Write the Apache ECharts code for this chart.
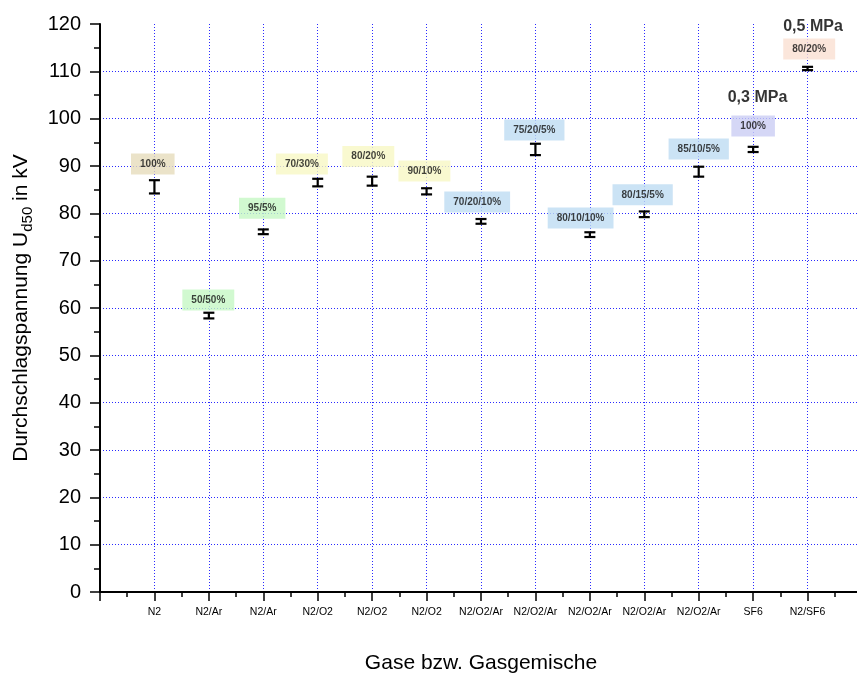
<!DOCTYPE html>
<html>
<head>
<meta charset="utf-8">
<script src="https://cdn.jsdelivr.net/npm/echarts@6/dist/echarts.min.js"></script>
<style>
html,body{margin:0;padding:0;background:#fff;}
#chart{width:857px;height:674px;}
</style>
</head>
<body>
<div id="chart"></div>
<script>
// ---- data ----
const categories = ['N2','N2/Ar','N2/Ar','N2/O2','N2/O2','N2/O2','N2/O2/Ar','N2/O2/Ar','N2/O2/Ar','N2/O2/Ar','N2/O2/Ar','SF6','N2/SF6'];
const means  = [85.6, 58.4, 76.1, 86.5, 86.8, 84.65, 78.3, 93.5, 75.5, 79.8, 88.8, 93.5, 110.6];
const errors = [1.4, 0.6, 0.5, 0.8, 0.95, 0.65, 0.5, 1.2, 0.5, 0.6, 1.05, 0.55, 0.35];
const mixLabels = ['100%','50/50%','95/5%','70/30%','80/20%','90/10%','70/20/10%','75/20/5%','80/10/10%','80/15/5%','85/10/5%','100%','80/20%'];
// annotation anchor positions (data coordinates)
const mixLabelX = [0.97, 1.99, 2.98, 3.71, 4.93, 5.96, 6.93, 7.98, 8.83, 9.97, 11.0, 12.0, 13.03];
const mixLabelY = [90.4, 61.7, 81.1, 90.4, 92.0, 88.95, 82.4, 97.6, 79.0, 83.9, 93.6, 98.45, 114.7];
const mixGroup  = ['n2','ar','ar','o2','o2','o2','o2ar','o2ar','o2ar','o2ar','o2ar','sf6','n2sf6'];
const pressureLabels = ['0,3 MPa','0,5 MPa'];
const pressureX = [12.08, 13.1];
const pressureY = [104.4, 119.4];
const yTicks = [0,10,20,30,40,50,60,70,80,90,100,110,120];

const groupColors = {n2:'#e6dcbc', ar:'#c6f8c4', o2:'#f8f8c4', o2ar:'#bedcf2', sf6:'#cacdf4', n2sf6:'#fae0d2'};

const chart = echarts.init(document.getElementById('chart'), null, {renderer:'canvas'});

const errData = categories.map((c,i)=>[i+1, means[i]-errors[i], means[i]+errors[i]]);
const labelData = mixLabels.map((t,i)=>({value:[mixLabelX[i], mixLabelY[i]], name:t,
  label:{backgroundColor: groupColors[mixGroup[i]]}}));
const pressData = pressureLabels.map((t,i)=>({value:[pressureX[i], pressureY[i]], name:t}));

const FONT = 'Liberation Sans, Arial, sans-serif';

chart.setOption({
  animation:false,
  backgroundColor:'#fff',
  grid:{left:100, right:-5, top:24, bottom:82, containLabel:false, outerBoundsMode:'none'},
  xAxis:{
    type:'value', min:0, max:14, interval:1,
    name:'Gase bzw. Gasgemische', nameLocation:'middle', nameGap:61,
    nameTextStyle:{fontFamily:FONT, fontSize:21, color:'#000'},
    axisLine:{show:true, onZero:false, lineStyle:{color:'#000', width:2}},
    axisTick:{show:true, inside:false, length:9, lineStyle:{color:'#000', width:1.5}},
    minorTick:{show:true, splitNumber:2, length:5, lineStyle:{color:'#000', width:1.5}},
    axisLabel:{fontFamily:FONT, fontSize:10.5, color:'#000', margin:15,
      formatter:(v)=>{const i=Math.round(v); return (i>=1 && i<=categories.length)? categories[i-1] : '';}},
    splitLine:{show:true, lineStyle:{color:'#2a2aff', type:[1,2], width:1}}
  },
  yAxis:{
    type:'value', min:0, max:120, interval:10,
    name:'{a|Durchschlagspannung U}{s|d50}{a| in kV}', nameLocation:'middle', nameGap:66, nameRotate:90,
    nameTextStyle:{rich:{
      a:{fontFamily:FONT, fontSize:21, color:'#000', lineHeight:26},
      s:{fontFamily:FONT, fontSize:15, color:'#000', lineHeight:26, padding:[13,0,0,0]}
    }},
    axisLine:{show:true, lineStyle:{color:'#000', width:2}},
    axisTick:{show:true, inside:false, length:10, lineStyle:{color:'#000', width:1.5}},
    minorTick:{show:true, splitNumber:2, length:6, lineStyle:{color:'#000', width:1.5}},
    axisLabel:{fontFamily:FONT, fontSize:20, color:'#000', margin:19,
      formatter:(v)=> yTicks.includes(v) ? String(v) : ''},
    splitLine:{show:true, showMinLine:false, showMaxLine:false, lineStyle:{color:'#2a2aff', type:[1,2], width:1}}
  },
  series:[
    {
      type:'custom', data:errData, z:5,
      renderItem:(params, api)=>{
        const x = api.value(0);
        const lo = api.coord([x, api.value(1)]);
        const hi = api.coord([x, api.value(2)]);
        const w = 5.5;
        const st = {stroke:'#000', lineWidth:2.2};
        return {type:'group', children:[
          {type:'line', shape:{x1:lo[0], y1:lo[1], x2:hi[0], y2:hi[1]}, style:st},
          {type:'line', shape:{x1:lo[0]-w, y1:lo[1], x2:lo[0]+w, y2:lo[1]}, style:st},
          {type:'line', shape:{x1:hi[0]-w, y1:hi[1], x2:hi[0]+w, y2:hi[1]}, style:st}
        ]};
      }
    },
    {
      type:'scatter', data:labelData, symbolSize:0, z:4, silent:true,
      label:{show:true, position:'inside', formatter:(p)=>p.name,
        fontFamily:FONT, fontSize:10, fontWeight:'bold', color:'#111',
        padding:[5,9,4,9], lineHeight:12}
    },
    {
      type:'scatter', data:pressData, symbolSize:0, z:4, silent:true,
      label:{show:true, position:'inside', formatter:(p)=>p.name,
        fontFamily:FONT, fontSize:16, fontWeight:'bold', color:'#000'}
    }
  ]
});
</script>
</body>
</html>
